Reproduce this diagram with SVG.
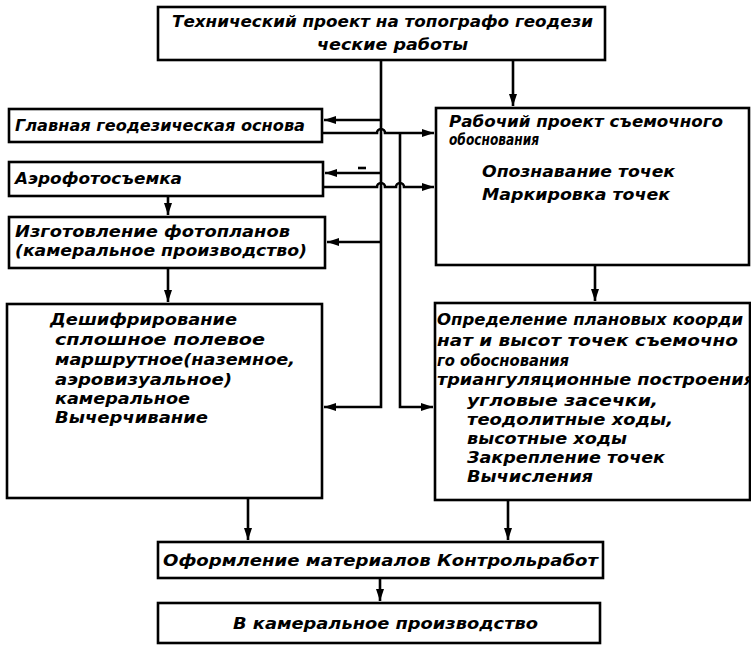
<svg xmlns="http://www.w3.org/2000/svg" width="751" height="648" viewBox="0 0 751 648">
<style>
.box{fill:#fff;stroke:#000;stroke-width:2.6}
.t{font-family:"DejaVu Sans","Liberation Sans",sans-serif;font-style:italic;font-weight:bold;font-size:16px;fill:#000}
.c{fill:none;stroke:#000;stroke-width:2.6}
</style>
<defs>
<marker id="ah" viewBox="0 0 12 8" refX="12" refY="4" markerWidth="12" markerHeight="8" markerUnits="userSpaceOnUse" orient="auto">
<path d="M0,0 L12,4 L0,8 Z" fill="#000"/>
</marker>
</defs>
<rect width="751" height="648" fill="#fff"/>
<g id="connectors">
<path class="c" d="M381,60 V407 H324" marker-end="url(#ah)"/>
<path class="c" d="M381,120 H324" marker-end="url(#ah)"/>
<path class="c" d="M381,173 H325" marker-end="url(#ah)"/>
<path class="c" d="M381,242 H327" marker-end="url(#ah)"/>
<path class="c" d="M322,133 H377 A4,4 0 0 1 385,133 H434" marker-end="url(#ah)"/>
<path class="c" d="M400,133 V407 H433" marker-end="url(#ah)"/>
<path class="c" d="M323,187 H377 A4,4 0 0 1 385,187 H396 A4,4 0 0 1 404,187 H434" marker-end="url(#ah)"/>
<path class="c" d="M358,168 H366" stroke-width="2"/>
<path class="c" d="M513,60 V106" marker-end="url(#ah)"/>
<path class="c" d="M168,196 V215" marker-end="url(#ah)"/>
<path class="c" d="M168,268 V302" marker-end="url(#ah)"/>
<path class="c" d="M595,265 V301" marker-end="url(#ah)"/>
<path class="c" d="M248,498 V540" marker-end="url(#ah)"/>
<path class="c" d="M508,500 V540" marker-end="url(#ah)"/>
<path class="c" d="M380,578 V601" marker-end="url(#ah)"/>
</g>
<g id="n-tech">
<rect class="box" x="158" y="7" width="447" height="53"/>
<text class="t" x="172" y="27" textLength="421" lengthAdjust="spacingAndGlyphs">Технический проект на топографо  геодези</text>
<text class="t" x="317" y="50" textLength="151" lengthAdjust="spacingAndGlyphs">ческие работы</text>
</g>
<g id="n-glav">
<rect class="box" x="9" y="109" width="313" height="33"/>
<text class="t" x="15" y="131" textLength="290" lengthAdjust="spacingAndGlyphs">Главная геодезическая основа</text>
</g>
<g id="n-aero">
<rect class="box" x="9" y="162" width="314" height="34"/>
<text class="t" x="15" y="184" textLength="167" lengthAdjust="spacingAndGlyphs">Аэрофотосъемка</text>
</g>
<g id="n-izg">
<rect class="box" x="9" y="217" width="316" height="51"/>
<text class="t" x="15" y="237" textLength="275" lengthAdjust="spacingAndGlyphs">Изготовление фотопланов</text>
<text class="t" x="15" y="256" textLength="292" lengthAdjust="spacingAndGlyphs">(камеральное производство)</text>
</g>
<g id="n-desh">
<rect class="box" x="7" y="304" width="315" height="194"/>
<text class="t" x="50" y="325" textLength="187" lengthAdjust="spacingAndGlyphs">Дешифрирование</text>
<text class="t" x="55" y="345" textLength="210" lengthAdjust="spacingAndGlyphs">сплошное  полевое</text>
<text class="t" x="55" y="365" textLength="240" lengthAdjust="spacingAndGlyphs">маршрутное(наземное,</text>
<text class="t" x="55" y="385" textLength="177" lengthAdjust="spacingAndGlyphs">аэровизуальное)</text>
<text class="t" x="55" y="404" textLength="135" lengthAdjust="spacingAndGlyphs">камеральное</text>
<text class="t" x="55" y="423" textLength="153" lengthAdjust="spacingAndGlyphs">Вычерчивание</text>
</g>
<g id="n-rab">
<rect class="box" x="436" y="108" width="313" height="157"/>
<text class="t" x="449" y="127" textLength="274" lengthAdjust="spacingAndGlyphs">Рабочий проект съемочного</text>
<text class="t" x="449" y="145" textLength="90" lengthAdjust="spacingAndGlyphs">обоснования</text>
<text class="t" x="482" y="177" textLength="193" lengthAdjust="spacingAndGlyphs">Опознавание точек</text>
<text class="t" x="482" y="200" textLength="188" lengthAdjust="spacingAndGlyphs">Маркировка точек</text>
</g>
<g id="n-opr">
<rect class="box" x="435" y="303" width="315" height="197"/>
<text class="t" x="437" y="325" textLength="306" lengthAdjust="spacingAndGlyphs">Определение плановых коорди</text>
<text class="t" x="437" y="346" textLength="301" lengthAdjust="spacingAndGlyphs">нат и высот точек съемочно</text>
<text class="t" x="437" y="366" textLength="132" lengthAdjust="spacingAndGlyphs">го обоснования</text>
<text class="t" x="437" y="385" textLength="318" lengthAdjust="spacingAndGlyphs">триангуляционные построения</text>
<text class="t" x="467" y="406" textLength="191" lengthAdjust="spacingAndGlyphs">угловые   засечки,</text>
<text class="t" x="467" y="425" textLength="206" lengthAdjust="spacingAndGlyphs">теодолитные ходы,</text>
<text class="t" x="467" y="444" textLength="160" lengthAdjust="spacingAndGlyphs">высотные ходы</text>
<text class="t" x="467" y="463" textLength="198" lengthAdjust="spacingAndGlyphs">Закрепление точек</text>
<text class="t" x="467" y="482" textLength="126" lengthAdjust="spacingAndGlyphs">Вычисления</text>
</g>
<g id="n-ofor">
<rect class="box" x="158" y="542" width="445" height="36"/>
<text class="t" x="163" y="566" textLength="435" lengthAdjust="spacingAndGlyphs">Оформление материалов Контрольработ</text>
</g>
<g id="n-kam">
<rect class="box" x="158" y="603" width="442" height="40"/>
<text class="t" x="233" y="629" textLength="305" lengthAdjust="spacingAndGlyphs">В камеральное производство</text>
</g>
</svg>
